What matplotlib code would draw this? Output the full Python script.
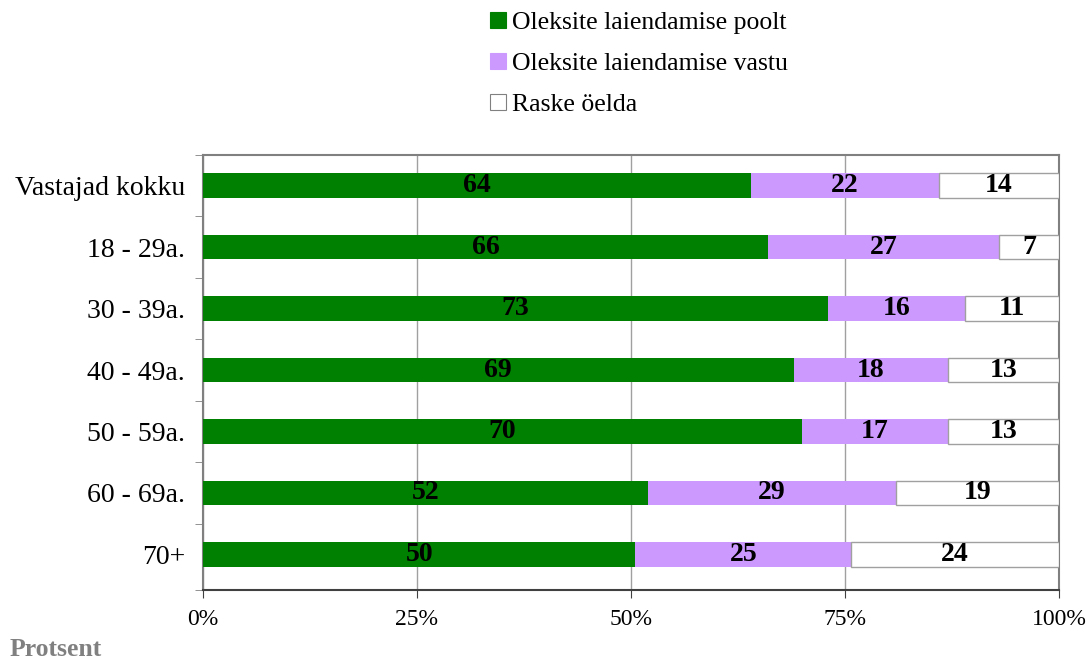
import matplotlib
matplotlib.use("Agg")
import matplotlib.pyplot as plt
from matplotlib.patches import Patch
import numpy as np

plt.rcParams['font.family'] = ['Liberation Serif', 'DejaVu Serif']

# andmed
categories = ["Vastajad kokku", "18 - 29a.", "30 - 39a.", "40 - 49a.",
              "50 - 59a.", "60 - 69a.", "70+"]
poolt = [64, 66, 73, 69, 70, 52, 50]
vastu = [22, 27, 16, 18, 17, 29, 25]
raske = [14, 7, 11, 13, 13, 19, 24]
series_names = ["Oleksite laiendamise poolt", "Oleksite laiendamise vastu", "Raske öelda"]
x_ticks = [0, 25, 50, 75, 100]

colors = ["#008000", "#cc99ff", "#ffffff"]

fig = plt.figure(figsize=(10.86, 6.62), dpi=100)
ax = fig.add_axes([203 / 1086, 1 - 590 / 662, 856 / 1086, 435 / 662])

data = np.array([poolt, vastu, raske], dtype=float)
totals = data.sum(axis=0)
pct = data / totals * 100
y = np.arange(len(categories))

left = np.zeros(len(categories))
for i in range(3):
    ec = "#a0a0a0" if i == 2 else "none"
    ax.barh(y, pct[i], left=left, height=0.4, color=colors[i],
            edgecolor=ec, linewidth=1, zorder=3)
    for j in range(len(categories)):
        ax.text(left[j] + pct[i][j] / 2, y[j], str(int(data[i][j])),
                ha="center", va="center", fontsize=20, fontweight="bold", zorder=4)
    left += pct[i]

y_bottom = len(categories) - 0.42
ax.set_xlim(0, 100)
ax.set_ylim(y_bottom, -0.49)
ax.set_xticks(x_ticks)
ax.set_xticklabels([f"{t}%" for t in x_ticks], fontsize=17)
ax.tick_params(axis="x", length=6, color="#404040", pad=8)
ax.set_yticks(y)
ax.set_yticklabels(categories, fontsize=20)
ax.tick_params(axis="y", which="major", length=0, pad=13)
ax.set_yticks(list(np.arange(-0.5, len(categories) - 1, 1)) + [y_bottom], minor=True)
ax.tick_params(axis="y", which="minor", length=6, color="#808080")
ax.grid(axis="x", color="#a0a0a0", linewidth=1, zorder=0)

for s in ["top", "right", "left"]:
    ax.spines[s].set_color("#808080")
    ax.spines[s].set_linewidth(1.5)
ax.spines["bottom"].set_color("#404040")
ax.spines["bottom"].set_linewidth(1.5)

handles = [Patch(facecolor=colors[i], edgecolor="#808080" if i == 2 else colors[i],
                 linewidth=0.8) for i in range(3)]
fig.legend(handles, series_names, loc="upper left",
           bbox_to_anchor=(467 / 1086, 1 + 11 / 662), frameon=False, fontsize=18.5,
           handlelength=0.6, handleheight=0.6, handletextpad=0.25, labelspacing=0.72)

fig.text(10 / 1086, 1 - 650 / 662, "Protsent", fontsize=18.5, fontweight="bold",
         color="#808080", va="center", ha="left")

fig.savefig("out.png", dpi=100)
